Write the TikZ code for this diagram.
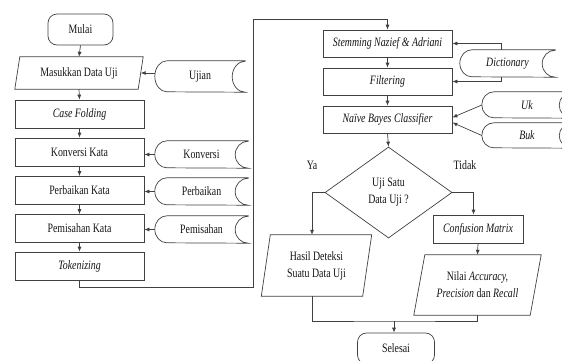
\documentclass[tikz,border=0pt]{standalone}
\usepackage{fontspec}
\setmainfont{Liberation Serif}[FakeStretch=0.77]
\usetikzlibrary{arrows.meta,shapes.geometric,calc}

\newcommand{\stored}[6]{%
  \node[txt, minimum width=#4pt, minimum height=#5pt] (#1) at (#2,#3) {#6};
  \draw[ln] (#1.north east) -- ([xshift=12pt]#1.north west)
    arc[start angle=90,end angle=270,x radius=12pt,y radius=#5pt/2]
    -- (#1.south east)
    arc[start angle=270,end angle=90,x radius=13pt,y radius=#5pt/2] -- cycle;}

\newcommand{\para}[7]{%
  \node[txt, minimum width=#4pt, minimum height=#5pt] (#1) at (#2,#3) {#7};
  \draw[ln] ([xshift=#6pt]#1.north west) -- ([xshift=#6pt]#1.north east)
    -- ([xshift=-#6pt]#1.south east) -- ([xshift=-#6pt]#1.south west) -- cycle;}

\begin{document}
\begin{tikzpicture}[x=1pt,y=-1pt,
  ln/.style={draw=black!75, line width=0.7pt},
  arr/.style={ln, -{Latex[length=5pt,width=4pt]}},
  txt/.style={inner sep=0pt, align=center, text=black!92, font=\fontsize{12.8pt}{17pt}\selectfont},
  proc/.style={txt, draw=black!75, line width=0.7pt, minimum width=129pt, minimum height=28pt},
  term/.style={txt, draw=black!75, line width=0.7pt, rounded corners=9pt, minimum width=65pt, minimum height=31pt},
]
\clip (0,0) rectangle (562,360);

% left column
\node[term] (mulai) at (80.5,29.5) {Mulai};
\para{masuk}{79}{73}{123}{32}{2.5}{Masukkan Data Uji}
\node[proc] (case) at (79.5,114) {\textit{Case Folding}};
\node[proc] (konv) at (79.5,152) {Konversi Kata};
\node[proc] (perb) at (79.5,190.5) {Perbaikan Kata};
\node[proc] (pemi) at (79.5,228.5) {Pemisahan Kata};
\node[proc] (tok) at (79.5,266) {\textit{Tokenizing}};

\stored{ujian}{200}{76.5}{90}{31}{Ujian}
\stored{skonv}{201.5}{154.5}{93}{27}{Konversi}
\stored{sperb}{201.5}{191.5}{93}{27}{Perbaikan}
\stored{spemi}{201.5}{229.5}{93}{27}{Pemisahan}

% right column
\node[proc, minimum height=27pt] (stem) at (387.5,43.5) {\textit{Stemming Nazief \& Adriani}};
\node[proc, minimum height=27pt] (filt) at (387.5,81.5) {\textit{Filtering}};
\node[proc, minimum height=27pt] (nb) at (387.5,119.5) {\textit{Naïve Bayes Classifier}};

\stored{dict}{507.5}{63.5}{95}{27}{\textit{Dictionary}}
\stored{uk}{527}{105}{90}{26}{\textit{Uk}}
\stored{buk}{527}{135.5}{90}{25}{\textit{Buk}}

\node[txt, diamond, draw=black!75, line width=0.7pt, minimum width=127pt, minimum height=91pt] (dec) at (388.5,192.5) {Uji Satu\\Data Uji ?};
\node[txt] (ya) at (312,165) {Ya};
\node[txt] (tidak) at (465,165) {Tidak};

\para{hasil}{316.5}{265.5}{101}{61}{4.5}{Hasil Deteksi\\Suatu Data Uji}
\node[proc, minimum width=90pt] (conf) at (478,229) {\textit{Confusion Matrix}};
\para{nilai}{477.5}{285}{116}{60}{5.5}{Nilai \textit{Accuracy,}\\\textit{Precision} dan \textit{Recall}}
\node[term, minimum width=77pt] (sel) at (396,348.5) {Selesai};

% connectors
\draw[arr] (mulai.south) -- (masuk.north);
\draw[arr] (masuk.south) -- (case.north);
\draw[arr] (case.south) -- (konv.north);
\draw[arr] (konv.south) -- (perb.north);
\draw[arr] (perb.south) -- (pemi.north);
\draw[arr] (pemi.south) -- (tok.north);

\draw[arr] (ujian.west |- masuk.east) -- (masuk.east);
\draw[arr] (skonv.west) -- (skonv.west -| konv.east);
\draw[arr] (sperb.west) -- (sperb.west -| perb.east);
\draw[arr] (spemi.west) -- (spemi.west -| pemi.east);

\coordinate (r1) at (253,287);
\coordinate (r2) at (253,19);
\draw[arr] (tok.south) |- (r1) -- (r2) -| (stem.north);

\draw[arr] (stem.south) -- (filt.north);
\draw[arr] (filt.south) -- (nb.north);
\draw[arr] ([xshift=-6.5pt]dict.north) |- (stem.east);
\draw[arr] ([xshift=-6.5pt]dict.south) |- (filt.east);
\draw[arr] (uk.west) -- ([yshift=2pt]nb.east);
\draw[arr] (buk.west) -- ([yshift=-3pt]nb.east);

\draw[arr] (nb.south) -- (dec.north);
\draw[arr] (dec.west) -| ([xshift=-4.5pt]hasil.north);
\draw[arr] (dec.east) -| ([xshift=-4.5pt]conf.north);
\draw[arr] (conf.south) -- (nilai.north);

\coordinate (mg) at (394,321);
\draw[ln] ([xshift=-4.5pt]hasil.south) |- (mg) -| (nilai.south);
\draw[arr] (mg) -- (mg |- sel.north);
\end{tikzpicture}
\end{document}
